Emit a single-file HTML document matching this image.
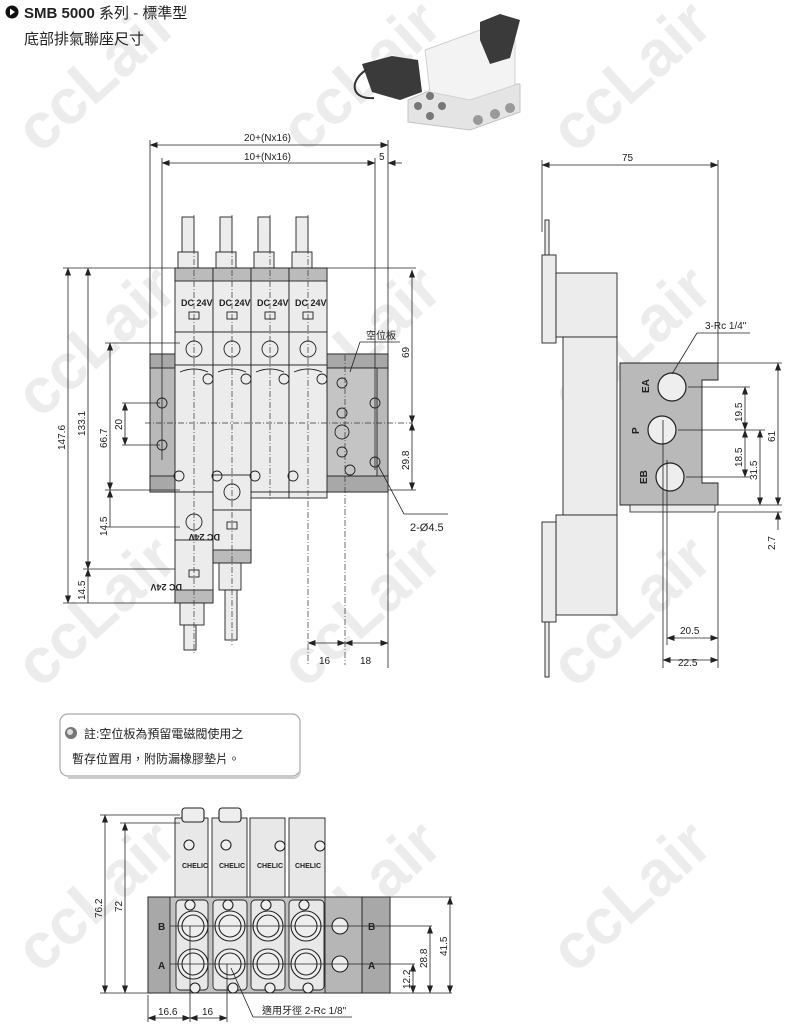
<!DOCTYPE html>
<html><head><meta charset="utf-8"><style>
html,body{margin:0;padding:0;background:#fff;}
svg{display:block;}
text{font-family:"Liberation Sans","Noto Sans CJK TC",sans-serif;fill:#222;}
.d{stroke:#222;stroke-width:0.8;fill:none;}
.c{stroke:#333;stroke-width:0.7;fill:none;stroke-dasharray:6 2 1 2;}
.o{stroke:#222;stroke-width:0.9;}
.wm{font-family:"Liberation Sans",sans-serif;font-weight:bold;font-size:64px;fill:#ececec;}
</style></head><body>
<svg width="800" height="1026" viewBox="0 0 800 1026" xmlns="http://www.w3.org/2000/svg">
<defs>
<marker id="a" markerWidth="8" markerHeight="6" refX="7.5" refY="3" orient="auto-start-reverse" markerUnits="userSpaceOnUse"><path d="M0,0 L8,3 L0,6 z" fill="#222"/></marker>
</defs>

<g>
<text class="wm" transform="translate(40,155) rotate(-42)">ccLair</text>
<text class="wm" transform="translate(305,155) rotate(-42)">ccLair</text>
<text class="wm" transform="translate(575,155) rotate(-42)">ccLair</text>
<text class="wm" transform="translate(40,420) rotate(-42)">ccLair</text>
<text class="wm" transform="translate(305,420) rotate(-42)">ccLair</text>
<text class="wm" transform="translate(575,420) rotate(-42)">ccLair</text>
<text class="wm" transform="translate(40,690) rotate(-42)">ccLair</text>
<text class="wm" transform="translate(305,690) rotate(-42)">ccLair</text>
<text class="wm" transform="translate(575,690) rotate(-42)">ccLair</text>
<text class="wm" transform="translate(40,975) rotate(-42)">ccLair</text>
<text class="wm" transform="translate(305,975) rotate(-42)">ccLair</text>
<text class="wm" transform="translate(575,975) rotate(-42)">ccLair</text>
</g>

<circle cx="12" cy="12" r="6.5" fill="#111"/>
<path d="M10,8.5 L15,12 L10,15.5 z" fill="#fff"/>
<text x="24" y="18" font-size="15" font-weight="bold">SMB 5000 <tspan font-weight="normal">系列 - 標準型</tspan></text>
<text x="24" y="44" font-size="15">底部排氣聯座尺寸</text>

<!-- photo -->
<g>
<polygon points="408,100 440,86 520,84 520,112 470,130 408,122" fill="#e4e4e4" stroke="#c4c4c4"/>
<polygon points="425,50 480,30 515,40 515,85 470,100 430,92" fill="#f3f3f3" stroke="#d0d0d0"/>
<polygon points="480,22 500,14 520,20 510,58 490,64 480,40" fill="#3a3a3a"/>
<polygon points="362,64 392,56 418,60 422,92 400,100 372,92" fill="#3a3a3a"/>
<path d="M366,70 C348,82 352,100 374,98" stroke="#333" stroke-width="2" fill="none"/>
<circle cx="418" cy="106" r="4" fill="#777"/><circle cx="430" cy="116" r="4" fill="#777"/><circle cx="442" cy="106" r="4" fill="#777"/><circle cx="430" cy="96" r="4" fill="#777"/>
<circle cx="478" cy="120" r="5" fill="#999"/><circle cx="495" cy="114" r="5" fill="#999"/><circle cx="510" cy="108" r="5" fill="#999"/>
</g>

<!-- FRONT VIEW -->
<rect x="150" y="354" width="238" height="138" fill="#b9b9b9" class="o"/>
<rect x="150" y="354" width="238" height="14" fill="#a8a8a8" class="o"/>
<rect x="150" y="476" width="238" height="16" fill="#a8a8a8" class="o"/>
<rect x="327" y="368" width="50" height="108" fill="#c4c4c4" class="o"/>
<g fill="#ececec" stroke="#222" stroke-width="0.9">
<rect x="182" y="217" width="12" height="35"/><rect x="178" y="252" width="20" height="16"/>
<rect x="175" y="268" width="38" height="64"/><rect x="175" y="268" width="38" height="13" fill="#bbb"/>
<rect x="175" y="332" width="38" height="33"/><rect x="175" y="365" width="38" height="127"/>
<rect x="220" y="217" width="12" height="35"/><rect x="216" y="252" width="20" height="16"/>
<rect x="213" y="268" width="38" height="64"/><rect x="213" y="268" width="38" height="13" fill="#bbb"/>
<rect x="213" y="332" width="38" height="33"/><rect x="213" y="365" width="38" height="127"/>
<rect x="258" y="217" width="12" height="35"/><rect x="254" y="252" width="20" height="16"/>
<rect x="251" y="268" width="38" height="64"/><rect x="251" y="268" width="38" height="13" fill="#bbb"/>
<rect x="251" y="332" width="38" height="33"/><rect x="251" y="365" width="38" height="127"/>
<rect x="251" y="492" width="38" height="6"/>
<rect x="296" y="217" width="12" height="35"/><rect x="292" y="252" width="20" height="16"/>
<rect x="289" y="268" width="38" height="64"/><rect x="289" y="268" width="38" height="13" fill="#bbb"/>
<rect x="289" y="332" width="38" height="33"/><rect x="289" y="365" width="38" height="127"/>
<rect x="289" y="492" width="38" height="6"/>
<rect x="175" y="492" width="38" height="48"/>
<rect x="175" y="540" width="38" height="63"/><rect x="175" y="590" width="38" height="13" fill="#bbb"/>
<rect x="180" y="603" width="24" height="22"/><rect x="184" y="625" width="12" height="25"/>
<rect x="213" y="475" width="38" height="35"/>
<rect x="213" y="510" width="38" height="53"/><rect x="213" y="550" width="38" height="13" fill="#bbb"/>
<rect x="219" y="563" width="22" height="27"/><rect x="225" y="590" width="12" height="50"/>
</g>
<g font-size="9" font-weight="bold">
<text x="181" y="306">DC 24V</text><text x="219" y="306">DC 24V</text><text x="257" y="306">DC 24V</text><text x="295" y="306">DC 24V</text>
<text x="206" y="590" transform="rotate(180 194 587)">DC 24V</text>
<text x="244" y="540" transform="rotate(180 232 537)">DC 24V</text>
</g>
<g fill="none" stroke="#222" stroke-width="0.9">
<rect x="189" y="312" width="10" height="7"/><rect x="227" y="312" width="10" height="7"/><rect x="265" y="312" width="10" height="7"/><rect x="303" y="312" width="10" height="7"/>
<rect x="189" y="570" width="10" height="7"/><rect x="227" y="522" width="10" height="7"/>
<circle cx="194" cy="349" r="8"/><circle cx="232" cy="349" r="8"/><circle cx="270" cy="349" r="8"/><circle cx="308" cy="349" r="8"/>
<circle cx="194" cy="522" r="8"/><circle cx="232" cy="492" r="8"/>
<path d="M180,372 q14,-6 28,0 M218,372 q14,-6 28,0 M256,372 q14,-6 28,0 M294,372 q14,-6 28,0"/>
<circle cx="208" cy="379" r="5"/><circle cx="246" cy="379" r="5"/><circle cx="284" cy="379" r="5"/><circle cx="322" cy="379" r="5"/>
<circle cx="179" cy="476" r="5"/><circle cx="217" cy="476" r="5"/><circle cx="255" cy="476" r="5"/><circle cx="293" cy="476" r="5"/>
<circle cx="162" cy="403" r="5"/><circle cx="162" cy="445" r="5"/>
<circle cx="375" cy="403" r="5"/><circle cx="375" cy="462" r="5"/>
<circle cx="342" cy="383" r="5"/><circle cx="342" cy="413" r="5"/><circle cx="342" cy="432" r="7"/><circle cx="342" cy="452" r="5"/><circle cx="350" cy="470" r="5"/>
</g>
<g class="c">
<line x1="194" y1="215" x2="194" y2="655"/><line x1="232" y1="215" x2="232" y2="645"/>
<line x1="270" y1="215" x2="270" y2="500"/><line x1="308" y1="215" x2="308" y2="665"/>
<line x1="345" y1="355" x2="345" y2="665"/>
<line x1="145" y1="423" x2="412" y2="423"/>
</g>
<g class="d">
<line x1="150" y1="145" x2="388" y2="145" marker-start="url(#a)" marker-end="url(#a)"/>
<line x1="162" y1="163" x2="375" y2="163" marker-start="url(#a)" marker-end="url(#a)"/>
<line x1="402" y1="163" x2="388" y2="163" marker-end="url(#a)"/>
<line x1="150" y1="140" x2="150" y2="354"/><line x1="162" y1="158" x2="162" y2="460"/>
<line x1="375" y1="158" x2="375" y2="470"/><line x1="388" y1="140" x2="388" y2="354"/>
<line x1="68" y1="268" x2="68" y2="603" marker-start="url(#a)" marker-end="url(#a)"/>
<line x1="88" y1="268" x2="88" y2="569" marker-start="url(#a)" marker-end="url(#a)"/>
<line x1="88" y1="603" x2="88" y2="569" marker-end="url(#a)"/>
<line x1="63" y1="268" x2="175" y2="268"/><line x1="63" y1="603" x2="175" y2="603"/><line x1="83" y1="569" x2="175" y2="569"/>
<line x1="110" y1="343" x2="110" y2="490" marker-start="url(#a)" marker-end="url(#a)"/>
<line x1="110" y1="527" x2="110" y2="490" marker-end="url(#a)"/>
<line x1="105" y1="343" x2="180" y2="343"/><line x1="105" y1="490" x2="180" y2="490"/><line x1="105" y1="527" x2="180" y2="527"/>
<line x1="125" y1="403" x2="125" y2="445" marker-start="url(#a)" marker-end="url(#a)"/>
<line x1="122" y1="403" x2="160" y2="403"/><line x1="122" y1="445" x2="160" y2="445"/>
<line x1="412" y1="270" x2="412" y2="423" marker-start="url(#a)" marker-end="url(#a)"/>
<line x1="412" y1="423" x2="412" y2="490" marker-start="url(#a)" marker-end="url(#a)"/>
<line x1="310" y1="268" x2="416" y2="268"/><line x1="388" y1="490" x2="416" y2="490"/>
<line x1="308" y1="643" x2="345" y2="643" marker-start="url(#a)" marker-end="url(#a)"/>
<line x1="345" y1="643" x2="388" y2="643" marker-start="url(#a)" marker-end="url(#a)"/>
<line x1="388" y1="492" x2="388" y2="668"/>
<line x1="350" y1="372" x2="360" y2="342"/><line x1="360" y1="342" x2="400" y2="342"/>
<line x1="378" y1="465" x2="404" y2="514"/><line x1="404" y1="514" x2="448" y2="514"/>
</g>
<g font-size="10">
<text x="244" y="141">20+(Nx16)</text>
<text x="244" y="160">10+(Nx16)</text>
<text x="379" y="160">5</text>
<text x="366" y="339">空位板</text>
<text x="410" y="531" font-size="11">2-Ø4.5</text>
<text x="319" y="664">16</text><text x="360" y="664">18</text>
<text transform="translate(65,450) rotate(-90)">147.6</text>
<text transform="translate(85,436) rotate(-90)">133.1</text>
<text transform="translate(107,448) rotate(-90)">66.7</text>
<text transform="translate(122,430) rotate(-90)">20</text>
<text transform="translate(107,536) rotate(-90)">14.5</text>
<text transform="translate(85,600) rotate(-90)">14.5</text>
<text transform="translate(409,358) rotate(-90)">69</text>
<text transform="translate(409,470) rotate(-90)">29.8</text>
</g>

<!-- SIDE VIEW -->
<g fill="#ececec" stroke="#222" stroke-width="0.9">
<rect x="545" y="220" width="4" height="35"/>
<rect x="542" y="255" width="14" height="88"/>
<rect x="556" y="273" width="61" height="64"/>
<rect x="563" y="337" width="54" height="178"/>
<rect x="556" y="515" width="61" height="100"/>
<rect x="542" y="522" width="14" height="100"/>
<rect x="545" y="622" width="4" height="55"/>
</g>
<path d="M620,505 L620,363 L718,363 L718,380 L702,380 L702,483 L718,483 L718,505 Z" fill="#b9b9b9" stroke="#222" stroke-width="0.9"/>
<rect x="630" y="505" width="85" height="7" fill="#ececec" stroke="#222" stroke-width="0.8"/>
<g fill="#eee" stroke="#222" stroke-width="1.2">
<circle cx="672" cy="387" r="14"/><circle cx="662" cy="430" r="14"/><circle cx="670" cy="477" r="14"/>
</g>
<g font-size="10" font-weight="bold">
<text transform="translate(649,393) rotate(-90)">EA</text>
<text transform="translate(639,434) rotate(-90)">P</text>
<text transform="translate(647,484) rotate(-90)">EB</text>
</g>
<g class="d">
<line x1="542" y1="165" x2="718" y2="165" marker-start="url(#a)" marker-end="url(#a)"/>
<line x1="542" y1="160" x2="542" y2="232"/><line x1="718" y1="160" x2="718" y2="363"/>
<line x1="672" y1="374" x2="697" y2="333"/><line x1="697" y1="333" x2="750" y2="333"/>
<line x1="688" y1="387" x2="750" y2="387"/><line x1="678" y1="430" x2="765" y2="430"/>
<line x1="686" y1="477" x2="750" y2="477"/><line x1="718" y1="363" x2="782" y2="363"/>
<line x1="718" y1="505" x2="782" y2="505"/><line x1="718" y1="512" x2="782" y2="512"/>
<line x1="745" y1="387" x2="745" y2="430" marker-start="url(#a)" marker-end="url(#a)"/>
<line x1="745" y1="430" x2="745" y2="477" marker-start="url(#a)" marker-end="url(#a)"/>
<line x1="760" y1="430" x2="760" y2="505" marker-start="url(#a)" marker-end="url(#a)"/>
<line x1="778" y1="363" x2="778" y2="505" marker-start="url(#a)" marker-end="url(#a)"/>
<line x1="778" y1="530" x2="778" y2="512" marker-end="url(#a)"/>
<line x1="667" y1="638" x2="718" y2="638" marker-start="url(#a)" marker-end="url(#a)"/>
<line x1="663" y1="660" x2="718" y2="660" marker-start="url(#a)" marker-end="url(#a)"/>
<line x1="663" y1="420" x2="663" y2="668"/><line x1="667" y1="460" x2="667" y2="645"/><line x1="718" y1="512" x2="718" y2="668"/>
</g>
<g font-size="10">
<text x="622" y="161">75</text>
<text x="705" y="329">3-Rc 1/4"</text>
<text transform="translate(742,422) rotate(-90)">19.5</text>
<text transform="translate(742,467) rotate(-90)">18.5</text>
<text transform="translate(757,480) rotate(-90)">31.5</text>
<text transform="translate(775,442) rotate(-90)">61</text>
<text transform="translate(775,550) rotate(-90)">2.7</text>
<text x="680" y="634">20.5</text>
<text x="678" y="666">22.5</text>
</g>

<!-- note box -->
<rect x="60" y="714" width="240" height="62" rx="8" fill="#fff" stroke="#aaa" stroke-width="1.2"/>
<path d="M300,724 L300,770 Q300,778 292,778 L68,778" stroke="#ccc" stroke-width="2" fill="none"/>
<circle cx="71" cy="733" r="6" fill="#777"/><circle cx="70" cy="732" r="3" fill="#ddd"/>
<text x="84" y="738" font-size="12">註:空位板為預留電磁閥使用之</text>
<text x="72" y="763" font-size="12">暫存位置用，附防漏橡膠墊片。</text>

<!-- BOTTOM VIEW -->
<rect x="148" y="897" width="242" height="96" fill="#c2c2c2" class="o"/>
<rect x="148" y="897" width="22" height="96" fill="#a8a8a8" class="o"/>
<rect x="362" y="897" width="28" height="96" fill="#a8a8a8" class="o"/>
<rect x="325" y="897" width="37" height="96" fill="#b6b6b6" class="o"/>
<g fill="#e8e8e8" stroke="#222" stroke-width="0.9">
<rect x="175" y="818" width="33" height="79"/><rect x="212" y="818" width="35" height="79"/>
<rect x="250" y="818" width="35" height="79"/><rect x="289" y="818" width="36" height="79"/>
<rect x="176" y="900" width="32" height="90" rx="4"/><rect x="213" y="900" width="34" height="90" rx="4"/>
<rect x="251" y="900" width="34" height="90" rx="4"/><rect x="289" y="900" width="35" height="90" rx="4"/>
</g>
<g fill="#eee" stroke="#222" stroke-width="1.1">
<rect x="182" y="808" width="22" height="14" rx="3"/><rect x="219" y="808" width="22" height="14" rx="3"/>
<circle cx="193" cy="926" r="15"/><circle cx="230" cy="926" r="15"/><circle cx="268" cy="926" r="15"/><circle cx="306" cy="926" r="15"/>
<circle cx="193" cy="964" r="15"/><circle cx="230" cy="964" r="15"/><circle cx="268" cy="964" r="15"/><circle cx="306" cy="964" r="15"/>
<circle cx="193" cy="926" r="11"/><circle cx="230" cy="926" r="11"/><circle cx="268" cy="926" r="11"/><circle cx="306" cy="926" r="11"/>
<circle cx="193" cy="964" r="11"/><circle cx="230" cy="964" r="11"/><circle cx="268" cy="964" r="11"/><circle cx="306" cy="964" r="11"/>
<circle cx="340" cy="926" r="8"/><circle cx="340" cy="964" r="8"/>
<circle cx="189" cy="845" r="5"/><circle cx="226" cy="845" r="5"/><circle cx="280" cy="846" r="5"/><circle cx="320" cy="846" r="5"/>
<circle cx="190" cy="905" r="5"/><circle cx="228" cy="905" r="5"/><circle cx="266" cy="905" r="5"/><circle cx="304" cy="905" r="5"/>
<circle cx="195" cy="988" r="5"/><circle cx="233" cy="988" r="5"/><circle cx="270" cy="988" r="5"/><circle cx="308" cy="988" r="5"/>
</g>
<g font-size="7" font-weight="bold"><text x="182" y="868">CHELIC</text><text x="219" y="868">CHELIC</text><text x="257" y="868">CHELIC</text><text x="295" y="868">CHELIC</text></g>
<g font-size="10" font-weight="bold"><text x="158" y="930">B</text><text x="158" y="969">A</text><text x="368" y="930">B</text><text x="368" y="969">A</text></g>
<g class="d">
<line x1="170" y1="926" x2="432" y2="926"/><line x1="170" y1="964" x2="415" y2="964"/>
<line x1="100" y1="815" x2="180" y2="815"/><line x1="120" y1="823" x2="180" y2="823"/>
<line x1="100" y1="993" x2="148" y2="993"/><line x1="390" y1="897" x2="452" y2="897"/><line x1="390" y1="993" x2="452" y2="993"/>
<line x1="105" y1="815" x2="105" y2="993" marker-start="url(#a)" marker-end="url(#a)"/>
<line x1="125" y1="823" x2="125" y2="993" marker-start="url(#a)" marker-end="url(#a)"/>
<line x1="450" y1="897" x2="450" y2="993" marker-start="url(#a)" marker-end="url(#a)"/>
<line x1="430" y1="926" x2="430" y2="993" marker-start="url(#a)" marker-end="url(#a)"/>
<line x1="413" y1="964" x2="413" y2="993" marker-start="url(#a)" marker-end="url(#a)"/>
<line x1="148" y1="995" x2="148" y2="1022"/><line x1="190" y1="926" x2="190" y2="1022"/><line x1="227" y1="964" x2="227" y2="1022"/>
<line x1="148" y1="1018" x2="190" y2="1018" marker-start="url(#a)" marker-end="url(#a)"/>
<line x1="190" y1="1018" x2="227" y2="1018" marker-start="url(#a)" marker-end="url(#a)"/>
<line x1="231" y1="968" x2="253" y2="1017"/><line x1="253" y1="1017" x2="352" y2="1017"/>
</g>
<g font-size="10">
<text transform="translate(102,918) rotate(-90)">76.2</text>
<text transform="translate(122,912) rotate(-90)">72</text>
<text transform="translate(447,956) rotate(-90)">41.5</text>
<text transform="translate(427,968) rotate(-90)">28.8</text>
<text transform="translate(410,989) rotate(-90)">12.2</text>
<text x="158" y="1015">16.6</text><text x="202" y="1015">16</text>
<text x="262" y="1014">適用牙徑 2-Rc 1/8"</text>
</g>
</svg>
</body></html>
